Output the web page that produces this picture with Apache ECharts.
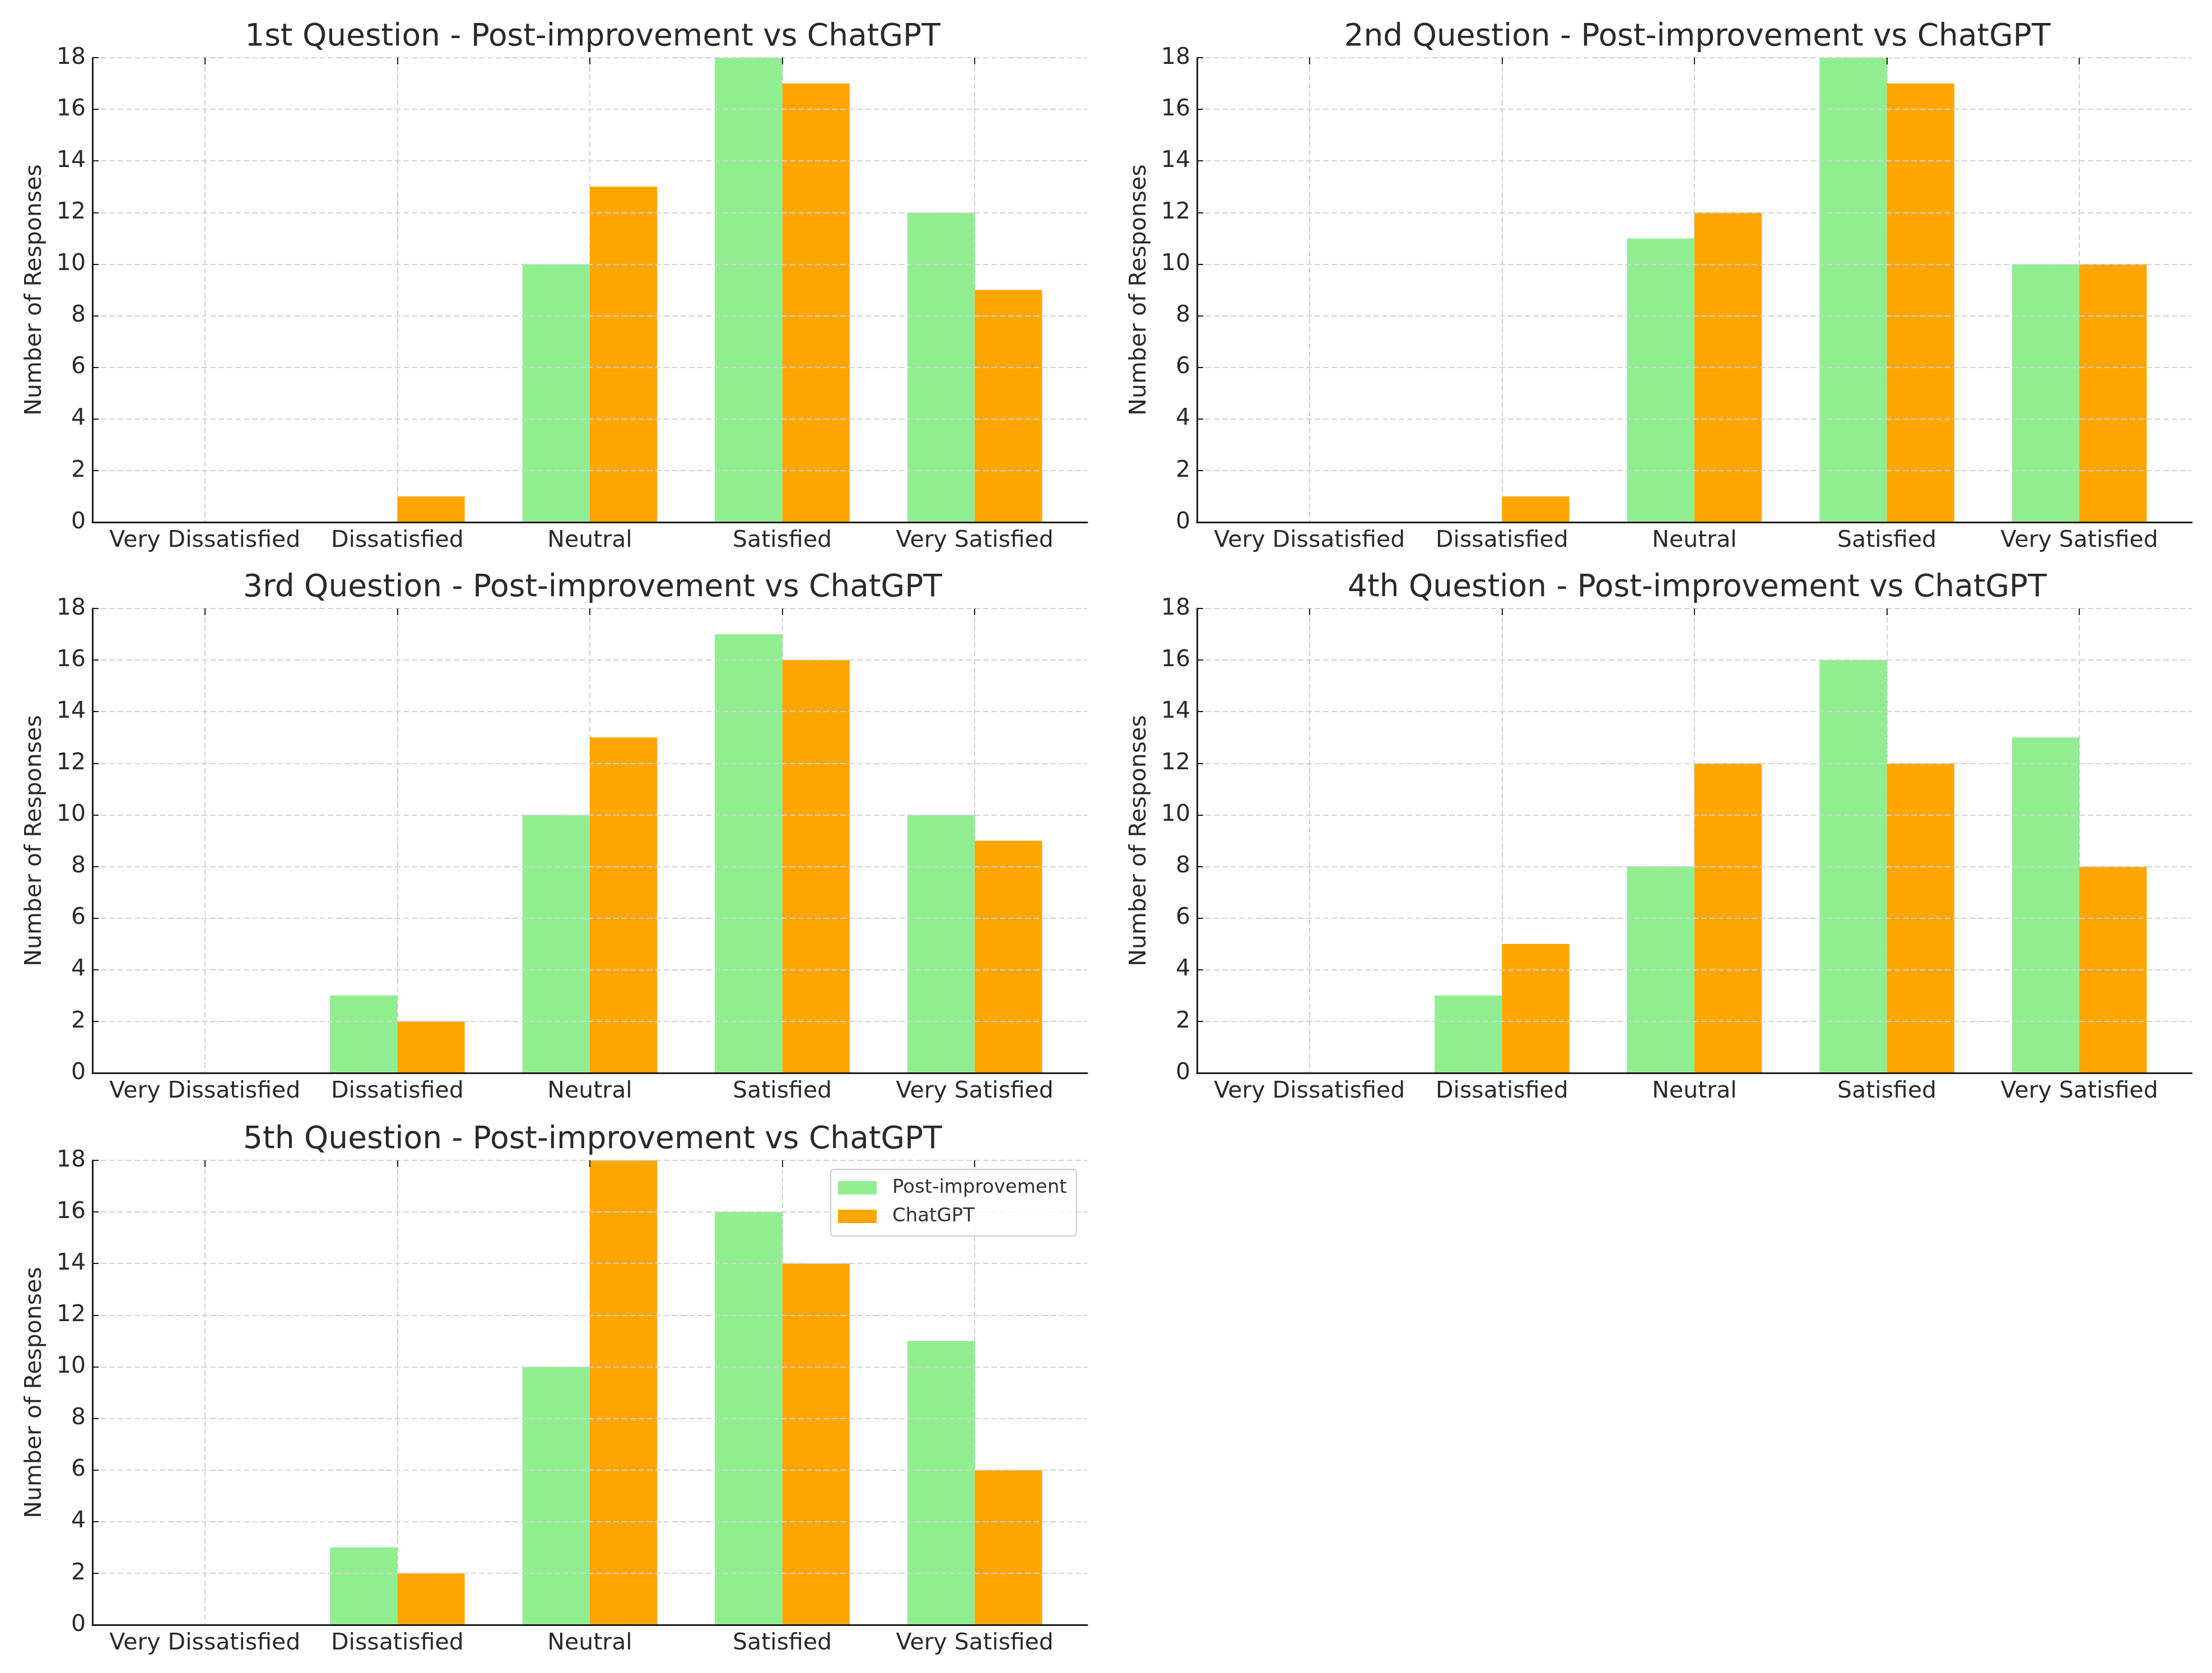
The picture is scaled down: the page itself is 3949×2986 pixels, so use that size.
<!DOCTYPE html>
<html>
<head>
<meta charset="utf-8">
<script src="https://cdn.jsdelivr.net/npm/echarts@6/dist/echarts.min.js"></script>
<style>
  html, body { margin: 0; padding: 0; background: #ffffff; }
  #chart { width: 3949px; height: 2986px; }
</style>
</head>
<body>
<div id="chart"></div>
<script>
// ---------------- data ----------------
const categories = ['Very Dissatisfied', 'Dissatisfied', 'Neutral', 'Satisfied', 'Very Satisfied'];
const seriesNames = ['Post-improvement', 'ChatGPT'];
const titles = [
  '1st Question - Post-improvement vs ChatGPT',
  '2nd Question - Post-improvement vs ChatGPT',
  '3rd Question - Post-improvement vs ChatGPT',
  '4th Question - Post-improvement vs ChatGPT',
  '5th Question - Post-improvement vs ChatGPT'
];
const postQ1 = [0, 0, 10, 18, 12];
const chatQ1 = [0, 1, 13, 17, 9];
const postQ2 = [0, 0, 11, 18, 10];
const chatQ2 = [0, 1, 12, 17, 10];
const postQ3 = [0, 3, 10, 17, 10];
const chatQ3 = [0, 2, 13, 16, 9];
const postQ4 = [0, 3, 8, 16, 13];
const chatQ4 = [0, 5, 12, 12, 8];
const postQ5 = [0, 3, 10, 16, 11];
const chatQ5 = [0, 2, 18, 14, 6];
const yMin = 0, yMax = 18, yStep = 2;
const yAxisName = 'Number of Responses';

// ---------------- layout / style ----------------
const postData = [postQ1, postQ2, postQ3, postQ4, postQ5];
const chatData = [chatQ1, chatQ2, chatQ3, chatQ4, chatQ5];
const colLeft = [165, 2137];
const rowTop = [103, 1086, 2071];
const plotW = 1776, plotH = 829, inset = 29;
const FONT = 'DejaVu Sans';
const TXT = '#2a2a2a';
const AX = '#1a1a1a';
const GRIDC = '#d2d2d2';
const GREEN = '#90EE90', ORANGE = '#FFA500';

// tick slots: boundaries and centres alternate; centres are odd indices
const tickSlots = [];
categories.forEach(c => { tickSlots.push(''); tickSlots.push(c); });
tickSlots.push('');
const atCentre = (i) => i % 2 === 1;

const grid = [], xAxis = [], yAxis = [], series = [], title = [];

for (let i = 0; i < 5; i++) {
  const L = colLeft[i % 2];
  const T = rowTop[Math.floor(i / 2)];
  const gF = grid.length;
  grid.push({ left: L, top: T, width: plotW, height: plotH, containLabel: false });
  const gB = grid.length;
  grid.push({ left: L + inset, top: T, width: plotW - 2 * inset, height: plotH, containLabel: false });

  title.push({
    text: titles[i],
    left: L + plotW / 2,
    top: T - 69,
    textAlign: 'center',
    textStyle: { fontFamily: FONT, fontSize: 55, fontWeight: 'normal', color: TXT, lineHeight: 55 }
  });

  // frame x axis (bottom spine)
  xAxis.push({
    type: 'value', gridIndex: gF, min: 0, max: 1, z: 6,
    axisLine: { show: true, lineStyle: { color: AX, width: 3 } },
    axisTick: { show: false }, axisLabel: { show: false }, splitLine: { show: false }
  });
  // category axis with labels
  const xC = xAxis.length;
  xAxis.push({
    type: 'category', gridIndex: gB, data: categories, boundaryGap: true,
    axisLine: { show: false }, axisTick: { show: false }, splitLine: { show: false },
    axisLabel: { fontFamily: FONT, fontSize: 41, color: TXT, margin: 13, lineHeight: 41, interval: 0 }
  });
  // vertical dashed grid lines at category centres
  xAxis.push({
    type: 'category', gridIndex: gB, data: tickSlots, boundaryGap: false, z: 0,
    axisLine: { show: false }, axisTick: { show: false }, axisLabel: { show: false },
    splitLine: { show: true, interval: atCentre, lineStyle: { color: GRIDC, width: 2, type: [10, 5] } }
  });
  // inward ticks at category centres (drawn above bars)
  xAxis.push({
    type: 'category', gridIndex: gB, data: tickSlots, boundaryGap: false, z: 6,
    axisLine: { show: false }, axisLabel: { show: false }, splitLine: { show: false },
    axisTick: { show: true, inside: true, length: 12, interval: atCentre, lineStyle: { color: AX, width: 2 } }
  });

  // frame y axis (left spine, labels, horizontal grid)
  yAxis.push({
    type: 'value', gridIndex: gF, min: yMin, max: yMax, interval: yStep, z: 6,
    name: yAxisName, nameLocation: 'middle', nameGap: 82, nameRotate: 90,
    nameTextStyle: { fontFamily: FONT, fontSize: 41, color: TXT, lineHeight: 41 },
    axisLine: { show: true, lineStyle: { color: AX, width: 3 } },
    axisTick: { show: true, inside: true, length: 11, lineStyle: { color: AX, width: 2 } },
    axisLabel: { fontFamily: FONT, fontSize: 41, color: TXT, margin: 12 },
    splitLine: { show: true, lineStyle: { color: GRIDC, width: 2, type: [10, 5] } }
  });
  const yB = yAxis.length;
  yAxis.push({ type: 'value', gridIndex: gB, min: yMin, max: yMax, show: false });

  series.push({
    name: seriesNames[0], type: 'bar', xAxisIndex: xC, yAxisIndex: yB,
    data: postData[i], barWidth: '35%', barGap: '0%',
    itemStyle: { color: GREEN }, emphasis: { disabled: true }
  });
  series.push({
    name: seriesNames[1], type: 'bar', xAxisIndex: xC, yAxisIndex: yB,
    data: chatData[i], barWidth: '35%', barGap: '0%',
    itemStyle: { color: ORANGE }, emphasis: { disabled: true }
  });
}

const option = {
  animation: false,
  backgroundColor: '#ffffff',
  title: title,
  grid: grid,
  xAxis: xAxis,
  yAxis: yAxis,
  legend: {
    data: seriesNames,
    orient: 'vertical',
    left: 1483,
    top: 2087,
    icon: 'rect',
    itemWidth: 69,
    itemHeight: 24,
    itemGap: 17,
    padding: [16, 17, 18, 13],
    borderColor: '#cccccc',
    borderWidth: 2,
    borderRadius: 6,
    backgroundColor: 'rgba(255,255,255,0.85)',
    selectedMode: false,
    textStyle: { fontFamily: FONT, fontSize: 34, color: '#333333', lineHeight: 24, padding: [0, 0, 0, 23] },
    z: 10
  },
  series: series
};

const chart = echarts.init(document.getElementById('chart'), null, { renderer: 'canvas' });
chart.setOption(option);
</script>
</body>
</html>
